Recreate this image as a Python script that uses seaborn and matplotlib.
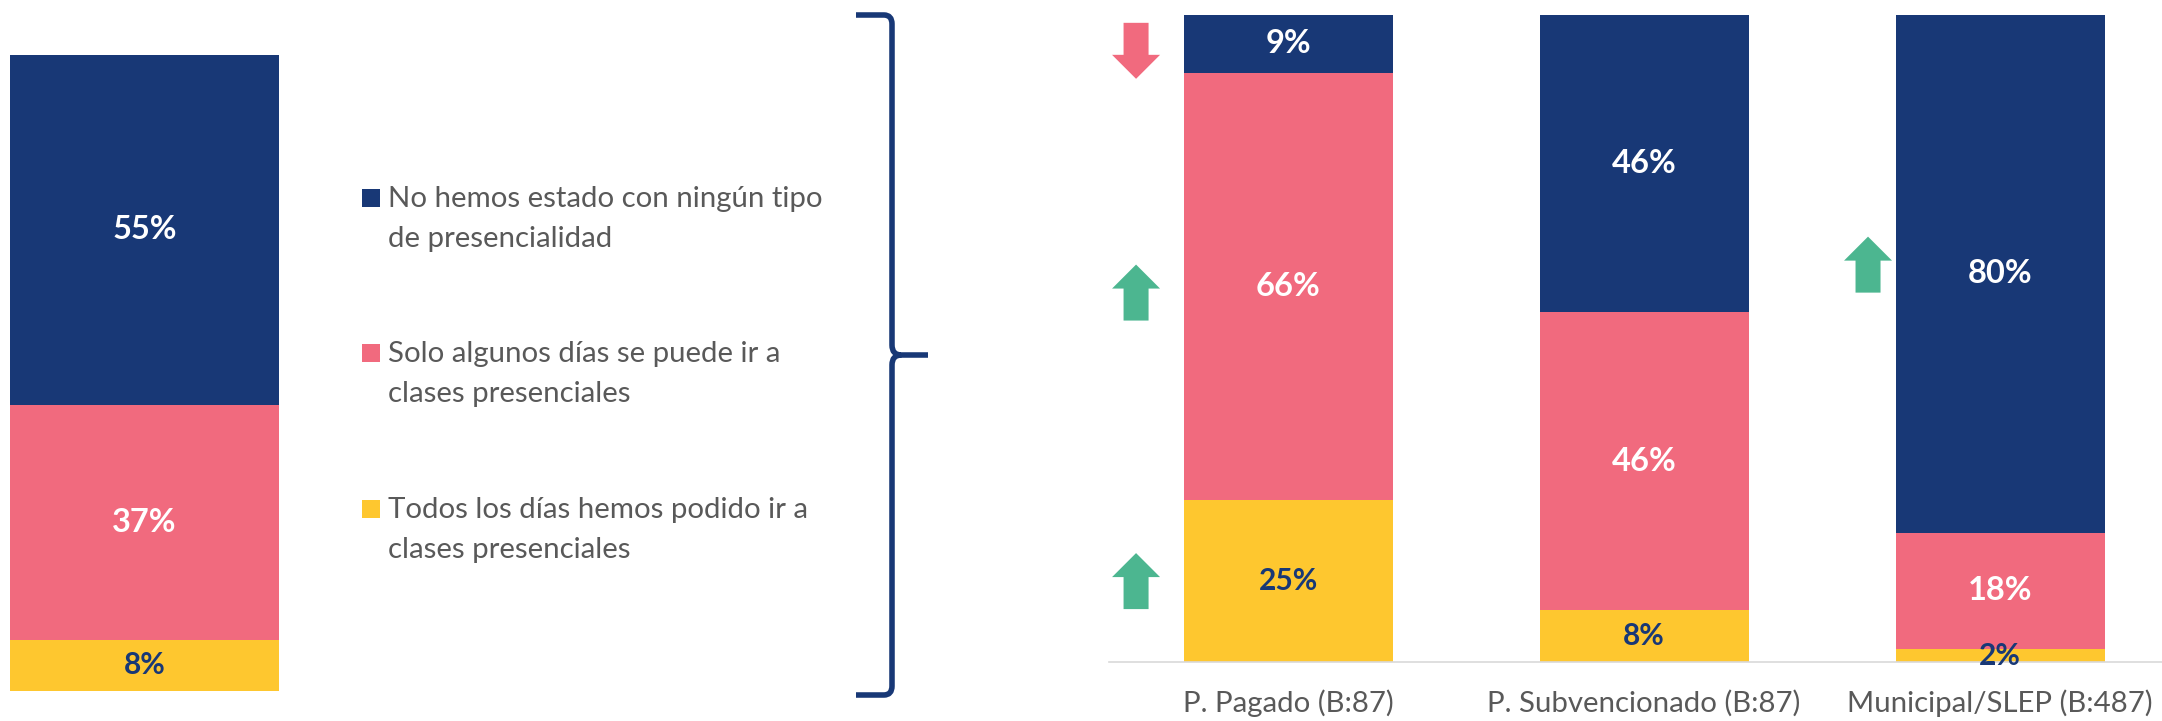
import numpy as np
import pandas as pd
import seaborn as sns
import matplotlib.pyplot as plt
from matplotlib.patches import Polygon, Rectangle, PathPatch
from matplotlib.path import Path

# --- data ---
series_labels = ['No hemos estado con ningún tipo\nde presencialidad',
                 'Solo algunos días se puede ir a\nclases presenciales',
                 'Todos los días hemos podido ir a\nclases presenciales']
total_vals = [55, 37, 8]          # ninguno, algunos, todos
groups = ['P. Pagado (B:87)', 'P. Subvencionado (B:87)', 'Municipal/SLEP (B:487)']
ninguno = [9, 46, 80]
algunos = [66, 46, 18]
todos = [25, 8, 2]
# change arrows: (group index, series index, direction)
arrows = [(0, 0, 'down'), (0, 1, 'up'), (0, 2, 'up'), (2, 0, 'up')]
# small pixel nudges for the arrows (dx, dy), y measured downwards
arrow_nudge = [(-152, 7), (-152, 6), (-152, 0), (-132, -9)]

NAVY = '#183876'
PINK = '#F16A7E'
YELLOW = '#FEC72F'
GREEN = '#4CB690'
GRAY = '#595959'
colors = [NAVY, PINK, YELLOW]
label_colors = ['white', 'white', NAVY]
label_sizes = [23.5, 23.5, 21.5]

sns.set_style('white')
plt.rcParams['font.family'] = ['Lato', 'DejaVu Sans']

W, H = 2162, 721
fig = plt.figure(figsize=(W / 100, H / 100), dpi=100)


def box(x0, y_top, x1, y_bot):
    # pixel box (y from top) -> figure fraction rect
    return [x0 / W, (H - y_bot) / H, (x1 - x0) / W, (y_bot - y_top) / H]


def stacked(ax, cats, layers, width):
    df = pd.DataFrame({'cat': cats})
    cum = np.zeros(len(cats))
    bottoms = []
    for vals in layers[::-1]:
        bottoms.insert(0, cum.copy())
        cum = cum + np.array(vals)
    # draw from the top layer down so lower layers overlap
    for i in range(len(layers)):
        top = bottoms[i] + np.array(layers[i])
        sns.barplot(data=df.assign(v=top), x='cat', y='v', color=colors[i],
                    width=width, saturation=1, linewidth=0, ax=ax)
    for i, vals in enumerate(layers):
        for j, v in enumerate(vals):
            ax.text(j, bottoms[i][j] + v / 2, f'{v}%', ha='center', va='center',
                    color=label_colors[i], fontsize=label_sizes[i], fontweight='bold',
                    clip_on=False)
    return bottoms


# left total bar
ax1 = fig.add_axes(box(10.3, 55.2, 278.8, 690.6))
stacked(ax1, [''], [[v] for v in total_vals], 1.0)
ax1.set_xlim(-0.5, 0.5)
ax1.set_ylim(0, 100)
ax1.axis('off')

# right grouped bars
ax2 = fig.add_axes(box(1109, 14.7, 2162, 662))
layers = [ninguno, algunos, todos]
bottoms = stacked(ax2, groups, layers, 0.587)
ax2.set_xlim(-0.503, 2.455)
ax2.set_ylim(0, 100)
sns.despine(ax=ax2, left=True)
ax2.spines['bottom'].set_color('#D9D9D9')
ax2.spines['bottom'].set_linewidth(1.2)
ax2.set_yticks([])
ax2.set_xlabel('')
ax2.set_ylabel('')
ax2.tick_params(axis='x', length=0, pad=20, labelsize=21.2, labelcolor=GRAY)

# arrows next to the segments
for (g, s, d), (dx, dy) in zip(arrows, arrow_nudge):
    yc = bottoms[s][g] + layers[s][g] / 2
    px, py = ax2.transData.transform((g, yc))
    px, py = px + dx, py - dy
    hw, sw, hl, L = 24, 12.5, 24, 56
    sgn = 1 if d == 'up' else -1
    tip = py + sgn * L / 2
    base = py - sgn * L / 2
    neck = tip - sgn * hl
    pts = [(px - sw, base), (px + sw, base), (px + sw, neck), (px + hw, neck),
           (px, tip), (px - hw, neck), (px - sw, neck)]
    pts = fig.transFigure.inverted().transform(pts)
    fig.patches.append(Polygon(pts, closed=True, transform=fig.transFigure,
                               facecolor=GREEN if d == 'up' else PINK, edgecolor='none'))

# legend
for i, lab in enumerate(series_labels):
    base = 206.7 + i * 155.5
    fig.patches.append(Rectangle((362 / W, (H - base) / H), 18 / W, 18 / H,
                                 transform=fig.transFigure, facecolor=colors[i],
                                 edgecolor='none'))
    for k, line in enumerate(lab.split('\n')):
        fig.text(388 / W, (H - base - 40 * k) / H, line, ha='left', va='baseline',
                 fontsize=21.2, color=GRAY)

# brace
bx, top, mid, bot = 892, 15, 355, 695
verts = [(856, top), (884, top), (bx, top), (bx, top + 9), (bx, mid - 10),
         (bx, mid), (901, mid), (928, mid),
         (901, mid), (bx, mid), (bx, mid + 10), (bx, bot - 9),
         (bx, bot), (884, bot), (856, bot)]
codes = [Path.MOVETO, Path.LINETO, Path.CURVE3, Path.CURVE3, Path.LINETO,
         Path.CURVE3, Path.CURVE3, Path.LINETO,
         Path.MOVETO, Path.CURVE3, Path.CURVE3, Path.LINETO,
         Path.CURVE3, Path.CURVE3, Path.LINETO]
verts = [(x / W, (H - y) / H) for x, y in verts]
fig.patches.append(PathPatch(Path(verts, codes), transform=fig.transFigure,
                             facecolor='none', edgecolor=NAVY, linewidth=4,
                             capstyle='butt', joinstyle='round'))

fig.savefig('out.png', dpi=100, facecolor='white')
